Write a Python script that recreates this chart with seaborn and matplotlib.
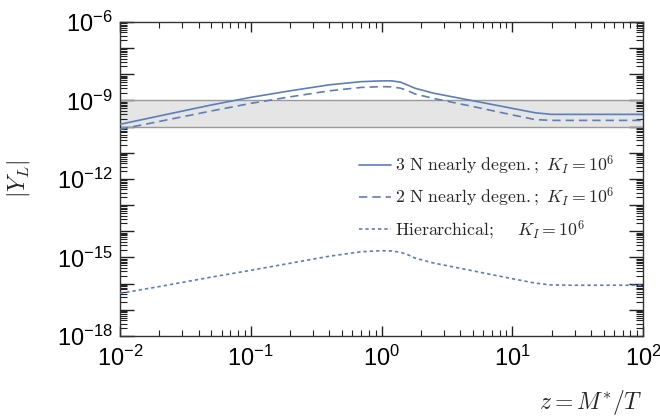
import numpy as np
import pandas as pd
import seaborn as sns
import matplotlib.pyplot as plt
from matplotlib.ticker import LogLocator, FuncFormatter, NullFormatter

plt.switch_backend('Agg')

# z = M*/T values
z = [0.01, 0.02, 0.05, 0.1, 0.2, 0.4, 0.7, 1.0, 1.2, 1.4, 1.6, 1.8,
     2.5, 5.0, 10.0, 15.0, 20.0, 30.0, 100.0]

# log10 |Y_L| for each curve
log_three_n = [-9.91, -9.59, -9.17, -8.88, -8.63, -8.40, -8.28, -8.25, -8.25, -8.30,
               -8.42, -8.53, -8.72, -9.01, -9.30, -9.47, -9.53, -9.53, -9.53]
log_two_n = [-10.10, -9.80, -9.40, -9.11, -8.86, -8.63, -8.50, -8.47, -8.48, -8.53,
             -8.63, -8.75, -8.92, -9.23, -9.55, -9.73, -9.76, -9.76, -9.76]
log_hier = [-16.37, -16.11, -15.75, -15.49, -15.22, -14.95, -14.78, -14.74, -14.75, -14.80,
            -14.90, -15.02, -15.21, -15.51, -15.81, -15.98, -16.05, -16.06, -16.06]

band_low, band_high = 1e-10, 1e-9

labels = [r'$\mathrm{3\ N\ nearly\ degen.;}\ K_I=10^6$',
          r'$\mathrm{2\ N\ nearly\ degen.;}\ K_I=10^6$',
          r'$\mathrm{Hierarchical;}\quad\ K_I=10^6$']

df = pd.DataFrame({
    'z': z * 3,
    'Y': 10.0 ** np.array(log_three_n + log_two_n + log_hier),
    'curve': [labels[0]] * len(z) + [labels[1]] * len(z) + [labels[2]] * len(z),
})

sns.set_theme(style='ticks')
plt.rcParams['font.family'] = ['Liberation Sans', 'DejaVu Sans']
plt.rcParams['mathtext.fontset'] = 'cm'

color = '#5b7fb8'

fig = plt.figure(figsize=(6.6, 4.19), dpi=100)
ax = fig.add_axes([120 / 660, 1 - 336 / 419, 523 / 660, 314 / 419])
ax.set_xscale('log')
ax.set_yscale('log')

ax.axhspan(band_low, band_high, color='#e5e5e5', lw=0, zorder=0)
ax.axhline(band_low, color='#9a9a9a', lw=1.0, zorder=1)
ax.axhline(band_high, color='#9a9a9a', lw=1.0, zorder=1)

styles = [None, (5, 3), (2, 1.8)]
for lab, dash in zip(labels, styles):
    sub = df[df['curve'] == lab]
    sns.lineplot(data=sub, x='z', y='Y', color=color, lw=1.2,
                 label=lab, ax=ax, zorder=3)
    if dash is not None:
        ax.get_lines()[-1].set_dashes(dash)

ax.set_xlim(1e-2, 1e2)
ax.set_ylim(1e-18, 1e-6)

ax.xaxis.set_major_locator(LogLocator(base=10, numticks=30))
ax.xaxis.set_minor_locator(LogLocator(base=10, subs=np.arange(2, 10), numticks=30))
ax.yaxis.set_major_locator(LogLocator(base=10, numticks=30))
ax.yaxis.set_minor_locator(LogLocator(base=10, subs=np.arange(2, 10), numticks=30))
ax.xaxis.set_minor_formatter(NullFormatter())
ax.yaxis.set_minor_formatter(NullFormatter())


def y_fmt(v, pos):
    e = int(round(np.log10(v)))
    if e % 3 == 0:
        return r'$\mathdefault{10^{%d}}$' % e
    return ''


def x_fmt(v, pos):
    e = int(round(np.log10(v)))
    return r'$\mathdefault{10^{%d}}$' % e


ax.yaxis.set_major_formatter(FuncFormatter(y_fmt))
ax.xaxis.set_major_formatter(FuncFormatter(x_fmt))

ax.tick_params(which='both', direction='in', top=True, right=True, color='#222222',
               labelsize=17, labelcolor='black')
ax.tick_params(axis='y', which='major', length=10, width=1.0, pad=5)
ax.tick_params(axis='y', which='minor', length=5, width=0.8)
ax.tick_params(axis='x', which='major', length=7, width=1.0, pad=7)
ax.tick_params(axis='x', which='minor', length=4, width=0.8)

for sp in ax.spines.values():
    sp.set_color('#333333')
    sp.set_linewidth(1.0)

ax.set_xlabel(r'$z = M^{*}/T$', fontsize=17, loc='right', labelpad=12)
ax.set_ylabel(r'$|Y_L|$', fontsize=17, labelpad=18)

ax.legend(loc='center right', bbox_to_anchor=(0.975, 0.44), frameon=False,
          fontsize=12.8, handlelength=1.8, handletextpad=0.2, labelspacing=0.5)

fig.savefig('out.png', dpi=100)
